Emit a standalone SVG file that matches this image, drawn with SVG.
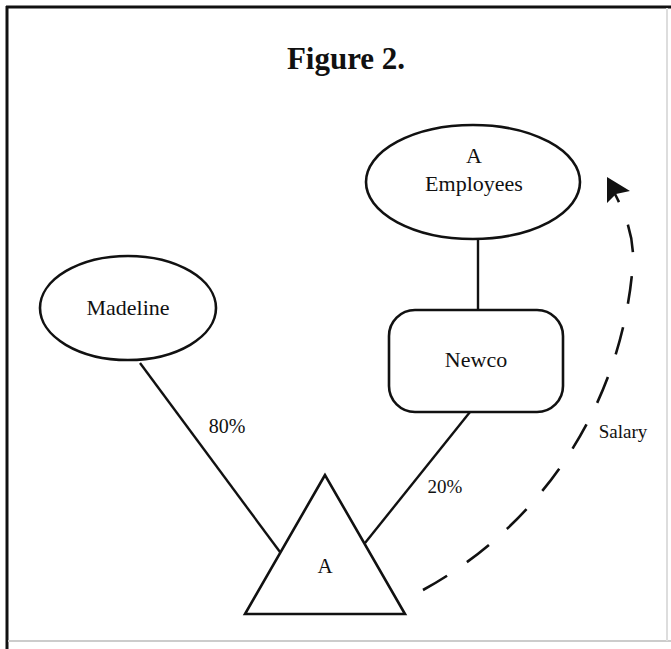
<svg xmlns="http://www.w3.org/2000/svg" width="671" height="649" viewBox="0 0 671 649">
<style>
.shape{fill:#fff;stroke:#111;stroke-width:2.6}
.conn{fill:none;stroke:#111;stroke-width:2.4}
.dash{fill:none;stroke:#111;stroke-width:2.6;stroke-dasharray:28 24}
.lbl{font-family:"Liberation Serif","Times New Roman",serif;fill:#111;text-anchor:middle}
</style>
<rect width="671" height="649" fill="#fff"/>
<line x1="6" y1="7" x2="671" y2="7" stroke="#111" stroke-width="3"/>
<line x1="7" y1="6" x2="7" y2="649" stroke="#111" stroke-width="3"/>
<line x1="8" y1="641" x2="671" y2="641" stroke="#ccc" stroke-width="2"/>
<line x1="667" y1="8" x2="667" y2="641" stroke="#ddd" stroke-width="2"/>
<text class="lbl" x="346" y="69" font-size="31" font-weight="bold">Figure 2.</text>
<g id="connectors">
<line class="conn" x1="140" y1="363" x2="280" y2="552"/>
<line class="conn" x1="478" y1="238" x2="478" y2="310"/>
<line class="conn" x1="470" y1="412" x2="365" y2="543"/>
<path class="dash" d="M423,590 A406,406 0 0 0 633,262 C634,234 624,212 615,194"/>
<polygon points="607,177 630,191 616,194 607,203" fill="#111"/>
<text class="lbl" x="227" y="433" font-size="20">80%</text>
<text class="lbl" x="445" y="493" font-size="19">20%</text>
<text class="lbl" x="623" y="438" font-size="19">Salary</text>
</g>
<g id="madeline">
<ellipse class="shape" cx="128" cy="308" rx="88" ry="52"/>
<text class="lbl" x="128" y="315" font-size="22">Madeline</text>
</g>
<g id="a-employees">
<ellipse class="shape" cx="473" cy="182" rx="107" ry="57"/>
<text class="lbl" x="474" y="163" font-size="22">A</text>
<text class="lbl" x="474" y="191" font-size="22">Employees</text>
</g>
<g id="newco">
<rect class="shape" x="389" y="310" width="174" height="102" rx="26"/>
<text class="lbl" x="476" y="367" font-size="22">Newco</text>
</g>
<g id="a">
<polygon class="shape" points="325,475 245,614 405,614"/>
<text class="lbl" x="325" y="573" font-size="21">A</text>
</g>
</svg>
